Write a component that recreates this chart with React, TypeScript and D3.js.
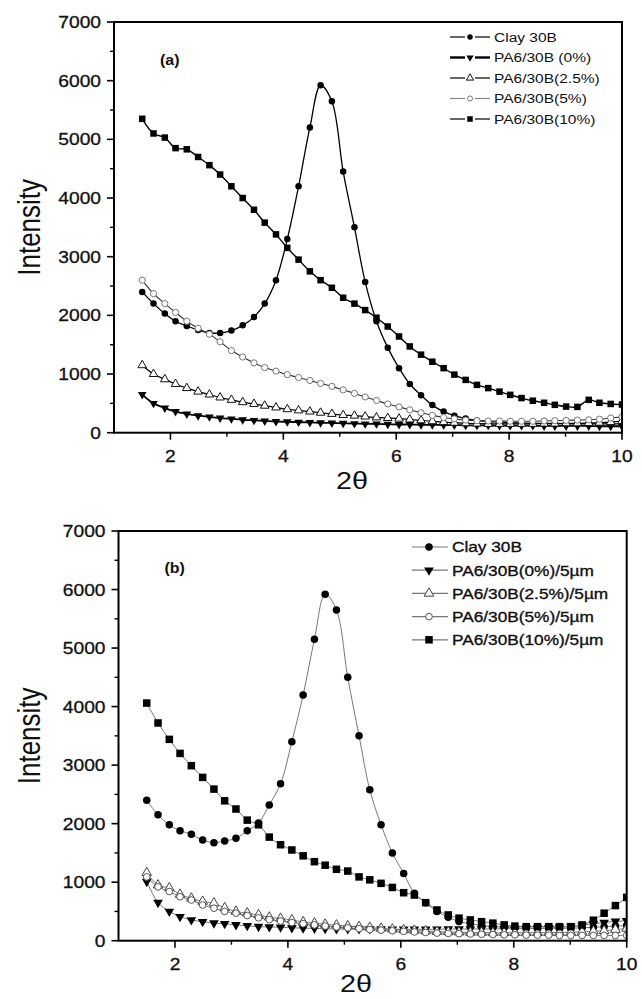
import React from "react";
import * as d3 from "d3";

// 2θ positions of the recorded points (shared by all curves)
const X_2THETA = [1.5, 1.7, 1.9, 2.09, 2.29, 2.49, 2.69, 2.88, 3.08, 3.28, 3.48, 3.67, 3.87, 4.07, 4.27, 4.47, 4.66, 4.86, 5.06, 5.26, 5.45, 5.65, 5.85, 6.05, 6.24, 6.44, 6.64, 6.84, 7.03, 7.23, 7.43, 7.63, 7.83, 8.02, 8.22, 8.42, 8.62, 8.81, 9.01, 9.21, 9.41, 9.6, 9.8, 10.0];

// Panel (a)
const CLAY_A = [2400, 2200, 2030, 1900, 1820, 1750, 1700, 1700, 1740, 1830, 1970, 2200, 2600, 3300, 4200, 5200, 5920, 5650, 4450, 3500, 2570, 1900, 1450, 1100, 830, 640, 470, 360, 290, 240, 210, 190, 180, 170, 165, 160, 160, 155, 150, 150, 150, 150, 150, 150];
const PA0_A = [650, 500, 420, 360, 320, 290, 270, 250, 235, 220, 210, 200, 190, 185, 180, 175, 170, 165, 160, 155, 150, 150, 145, 140, 140, 135, 135, 130, 130, 125, 125, 125, 120, 120, 120, 120, 115, 115, 115, 115, 115, 110, 110, 110];
const PA25_A = [1150, 1000, 910, 830, 760, 700, 650, 600, 560, 520, 490, 460, 430, 400, 380, 360, 340, 320, 300, 290, 275, 260, 250, 240, 225, 210, 195, 180, 170, 160, 155, 150, 150, 150, 150, 150, 155, 155, 160, 160, 165, 170, 180, 200];
const PA5_A = [2600, 2370, 2200, 2050, 1900, 1780, 1680, 1550, 1400, 1290, 1190, 1110, 1050, 990, 940, 890, 840, 790, 730, 670, 610, 550, 490, 440, 390, 340, 295, 260, 235, 215, 205, 200, 200, 195, 195, 195, 200, 205, 210, 215, 220, 230, 250, 270];
const PA10_A = [5350, 5100, 5030, 4850, 4830, 4700, 4560, 4400, 4200, 4000, 3800, 3580, 3380, 3150, 2950, 2750, 2600, 2470, 2300, 2200, 2090, 1960, 1810, 1640, 1470, 1330, 1210, 1100, 990, 900, 815, 760, 700, 645, 590, 545, 510, 475, 445, 440, 560, 510, 490, 480];

// Panel (b)
const CLAY_B = [2400, 2150, 1980, 1880, 1820, 1720, 1675, 1705, 1750, 1880, 2010, 2320, 2680, 3400, 4200, 5150, 5920, 5650, 4500, 3500, 2580, 1980, 1500, 1150, 810, 650, 500, 400, 330, 290, 260, 240, 230, 220, 215, 210, 210, 210, 215, 220, 230, 240, 250, 260];
const PA0_B = [1010, 650, 500, 410, 355, 325, 300, 290, 270, 255, 240, 235, 230, 220, 215, 210, 205, 200, 200, 200, 200, 200, 195, 195, 195, 195, 195, 200, 200, 200, 200, 200, 205, 205, 210, 215, 220, 230, 240, 260, 290, 310, 330, 340];
const PA25_B = [1160, 950, 900, 790, 725, 670, 640, 560, 500, 470, 440, 400, 380, 355, 320, 300, 280, 265, 250, 240, 225, 210, 195, 185, 175, 165, 155, 150, 145, 140, 140, 135, 135, 135, 135, 135, 140, 140, 145, 150, 160, 170, 190, 210];
const PA5_B = [1090, 920, 840, 750, 695, 610, 555, 500, 470, 430, 390, 360, 335, 310, 290, 270, 250, 235, 220, 205, 190, 180, 170, 160, 150, 140, 130, 125, 120, 115, 110, 105, 100, 100, 95, 95, 95, 90, 90, 90, 90, 90, 90, 90];
const PA10_B = [4060, 3720, 3440, 3200, 2990, 2790, 2590, 2390, 2250, 2060, 1980, 1770, 1640, 1550, 1450, 1350, 1290, 1220, 1190, 1090, 1040, 980, 910, 820, 780, 650, 525, 440, 385, 355, 325, 300, 270, 250, 240, 240, 240, 240, 240, 270, 350, 470, 600, 740];

const X_TICKS = [2, 4, 6, 8, 10];
const X_MINOR = [3, 5, 7, 9];
const Y_TICKS = [0, 1000, 2000, 3000, 4000, 5000, 6000, 7000];
const Y_MINOR = [500, 1500, 2500, 3500, 4500, 5500, 6500];

const LEGEND_A = ["Clay 30B", "PA6/30B (0%)", "PA6/30B(2.5%)", "PA6/30B(5%)", "PA6/30B(10%)"];
const LEGEND_B = ["Clay 30B", "PA6/30B(0%)/5\u00b5m", "PA6/30B(2.5%)/5\u00b5m", "PA6/30B(5%)/5\u00b5m", "PA6/30B(10%)/5\u00b5m"];
const MARKERS = ["circle", "triDown", "triUp", "openCircle", "square"];

const FONT = "'Liberation Sans', Arial, Helvetica, sans-serif";
const SX = 1.2;

function SText({ x, y, size, anchor = "start", weight = "normal", fill = "#111", children, rotate = 0, sx = SX, strokeW = 0 }: any) {
  const tr = `translate(${x},${y}) scale(${sx},1)` + (rotate ? ` rotate(${rotate})` : "");
  return (
    <text transform={tr} fontFamily={FONT} fontSize={size} textAnchor={anchor} fontWeight={weight} fill={fill}
      stroke={strokeW ? fill : "none"} strokeWidth={strokeW}>
      {children}
    </text>
  );
}

function Marker({ type, x, y, s, color, fillOpen = "#fff" }: any) {
  const triArea = (Math.sqrt(3) / 4) * s * s * 1.15;
  if (type === "circle") return <circle cx={x} cy={y} r={s / 2} fill={color} />;
  if (type === "openCircle") return <circle cx={x} cy={y} r={s / 2 - 0.4} fill={fillOpen} stroke={color} strokeWidth={1} />;
  if (type === "square") return <rect x={x - s / 2} y={y - s / 2} width={s} height={s} fill={color} />;
  const p = d3.symbol(d3.symbolTriangle, triArea)() as string;
  if (type === "triDown") return <path d={p} transform={`translate(${x},${y}) rotate(180)`} fill={color} />;
  return <path d={p} transform={`translate(${x},${y})`} fill={fillOpen} stroke={color} strokeWidth={1} />;
}

function Panel({ cfg }: any) {
  const { left, right, top, bottom, series, legend, tag, tagY, lg, lineColor, mk, xTitleX, xTitleDy, idc } = cfg;
  const x = d3.scaleLinear().domain([1, 10]).range([left, right]);
  const y = d3.scaleLinear().domain([0, 7000]).range([bottom, top]);
  const line = d3.line<number>()
    .x((_, i) => x(X_2THETA[i]))
    .y((d) => y(d))
    .curve(d3.curveCatmullRom.alpha(0.5));
  return (
    <g>
      <defs>
        <clipPath id={idc}>
          <rect x={left} y={top} width={right - left} height={bottom - top} />
        </clipPath>
      </defs>
      {/* curves */}
      <g clipPath={`url(#${idc})`}>
        {series.map((s: any, k: number) => (
          <path key={"l" + k} d={line(s.values) as string} fill="none" stroke={s.lineColor || lineColor} strokeWidth={s.lw} />
        ))}
        {series.map((s: any, k: number) => (
          <g key={"m" + k}>
            {s.values.map((v: number, i: number) => (
              <Marker key={i} type={s.marker} x={x(X_2THETA[i])} y={y(v)} s={s.size} color={s.mColor} />
            ))}
          </g>
        ))}
      </g>
      {/* frame */}
      <rect x={left} y={top} width={right - left} height={bottom - top} fill="none" stroke="#000" strokeWidth={2} />
      {/* x ticks */}
      {X_TICKS.map((t) => (
        <g key={"xt" + t}>
          <line x1={x(t)} x2={x(t)} y1={bottom} y2={bottom + 7} stroke="#000" strokeWidth={1.6} />
          <SText x={x(t)} y={bottom + 29} size={16} anchor="middle" strokeW={0.3}>{t}</SText>
        </g>
      ))}
      {X_MINOR.map((t) => (
        <line key={"xm" + t} x1={x(t)} x2={x(t)} y1={bottom} y2={bottom + 4} stroke="#000" strokeWidth={1.4} />
      ))}
      {Y_TICKS.map((t) => (
        <g key={"yt" + t}>
          <line x1={left - 7} x2={left} y1={y(t)} y2={y(t)} stroke="#000" strokeWidth={1.6} />
          <SText x={left - 13} y={y(t) + 6} size={16} anchor="end" strokeW={0.3}>{t}</SText>
        </g>
      ))}
      {Y_MINOR.map((t) => (
        <line key={"ym" + t} x1={left - 4} x2={left} y1={y(t)} y2={y(t)} stroke="#000" strokeWidth={1.4} />
      ))}
      {/* axis titles */}
      <SText x={40} y={(top + bottom) / 2} size={26} anchor="middle" rotate={-90}>Intensity</SText>
      <SText x={xTitleX} y={bottom + xTitleDy} size={24} anchor="middle">2θ</SText>
      {/* panel tag */}
      <SText x={left + 46} y={tagY} size={14.5} weight="bold" sx={1.1}>{tag}</SText>
      {/* legend */}
      {legend.map((name: string, k: number) => {
        const ry = lg.y0 + k * lg.dy;
        const s = series[k];
        return (
          <g key={"lg" + k}>
            {lg.gap ? (
              <g>
                <line x1={lg.x1} x2={lg.xm - 5} y1={ry} y2={ry} stroke={s.legendLine || "#000"} strokeWidth={s.legendLw || 1.2} />
                <line x1={lg.xm + 5} x2={lg.x2} y1={ry} y2={ry} stroke={s.legendLine || "#000"} strokeWidth={s.legendLw || 1.2} />
              </g>
            ) : (
              <line x1={lg.x1} x2={lg.x2} y1={ry} y2={ry} stroke={s.legendLine || lineColor} strokeWidth={s.legendLw || 1.2} />
            )}
            <Marker type={s.marker} x={lg.xm} y={ry} s={s.size * mk} color={s.mColor} />
            <SText x={lg.tx} y={ry + lg.size * 0.36} size={lg.size} sx={lg.sx} strokeW={lg.strokeW}>{name}</SText>
          </g>
        );
      })}
    </g>
  );
}

export default function App() {
  const panelA = {
    idc: "clipA",
    left: 114, right: 622, top: 22, bottom: 432.7,
    tag: "(a)", tagY: 65, xTitleX: 352, xTitleDy: 56,
    lineColor: "#000", mk: 0.85,
    legend: LEGEND_A,
    lg: { x1: 450, x2: 490, xm: 470, tx: 494, y0: 37, dy: 20.5, size: 13.5, sx: 1.15, gap: true, strokeW: 0 },
    series: [
      { values: CLAY_A, marker: MARKERS[0], size: 6.5, mColor: "#000", lw: 1.3 },
      { values: PA0_A, marker: MARKERS[1], size: 8, mColor: "#000", lw: 1.8, legendLw: 2.4 },
      { values: PA25_A, marker: MARKERS[2], size: 8, mColor: "#111", lw: 1.2 },
      { values: PA5_A, marker: MARKERS[3], size: 7, mColor: "#777", lw: 1.1, lineColor: "#333", legendLine: "#888" },
      { values: PA10_A, marker: MARKERS[4], size: 6.5, mColor: "#000", lw: 1.4 },
    ],
  };
  const panelB = {
    idc: "clipB",
    left: 118.5, right: 626.7, top: 531, bottom: 940.7,
    tag: "(b)", tagY: 573, xTitleX: 356, xTitleDy: 51,
    lineColor: "#777", mk: 1,
    legend: LEGEND_B,
    lg: { x1: 412, x2: 448, xm: 429, tx: 452, y0: 547, dy: 23.2, size: 15, sx: 1.15, gap: false, strokeW: 0.35 },
    series: [
      { values: CLAY_B, marker: MARKERS[0], size: 7.5, mColor: "#000", lw: 1 },
      { values: PA0_B, marker: MARKERS[1], size: 9, mColor: "#000", lw: 1 },
      { values: PA25_B, marker: MARKERS[2], size: 9, mColor: "#444", lw: 1 },
      { values: PA5_B, marker: MARKERS[3], size: 7.5, mColor: "#555", lw: 1 },
      { values: PA10_B, marker: MARKERS[4], size: 7.5, mColor: "#000", lw: 1 },
    ],
  };
  return (
    <svg width={642} height={999} style={{ position: "absolute", left: 0, top: 0, background: "#fff" }}>
      <rect x={0} y={0} width={642} height={999} fill="#fff" />
      <Panel cfg={panelA} />
      <Panel cfg={panelB} />
    </svg>
  );
}
